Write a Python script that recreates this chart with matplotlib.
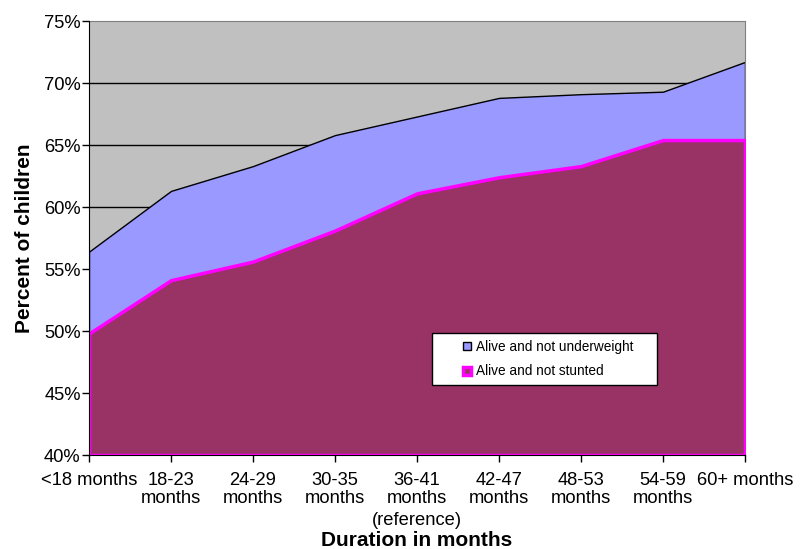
import numpy as np
import matplotlib

matplotlib.use("Agg")
import matplotlib.pyplot as plt
from matplotlib.patches import Patch, Rectangle
from matplotlib.legend_handler import HandlerPatch

plt.rcParams["font.family"] = ["Liberation Sans", "DejaVu Sans"]

# data (percent of children)
categories = [
    "<18 months",
    "18-23\nmonths",
    "24-29\nmonths",
    "30-35\nmonths",
    "36-41\nmonths",
    "42-47\nmonths",
    "48-53\nmonths",
    "54-59\nmonths",
    "60+ months",
]
not_underweight = [56.4, 61.3, 63.3, 65.8, 67.3, 68.8, 69.1, 69.3, 71.7]
not_stunted = [49.8, 54.1, 55.6, 58.1, 61.1, 62.4, 63.3, 65.4, 65.4]
yticks = [40, 45, 50, 55, 60, 65, 70, 75]
ref_idx = 4  # reference category


class SquareHandler(HandlerPatch):
    """small square drawn at the right end of the handle box"""

    def create_artists(self, legend, orig_handle, xdescent, ydescent,
                       width, height, fontsize, trans):
        s = height
        p = Rectangle((width - s - xdescent, -ydescent), s, s,
                      facecolor=orig_handle.get_facecolor(),
                      edgecolor=orig_handle.get_edgecolor(),
                      lw=orig_handle.get_linewidth(), transform=trans)
        return [p]


x = np.arange(len(categories))

fig = plt.figure(figsize=(8, 5.49), dpi=100)
ax = fig.add_axes([0.11125, 0.1712, 0.82, 0.7905])
ax.set_facecolor("#C0C0C0")

for yv in yticks[1:-1]:
    ax.axhline(yv, color="black", lw=1, zorder=1)

ax.fill_between(x, 40, not_underweight, facecolor="#9999FF",
                edgecolor="black", lw=1, zorder=2)
ax.fill_between(x, 40, not_stunted, facecolor="#993366",
                edgecolor="#FF00FF", lw=2.5, zorder=3)

ax.set_xlim(0, len(categories) - 1)
ax.set_ylim(40, 75)
ax.set_yticks(yticks)
ax.set_yticklabels(["%d%%" % v for v in yticks], fontsize=13.2)
ax.set_xticks(x)
ax.set_xticklabels(categories, fontsize=13.2, linespacing=1.05, va="top")
ax.tick_params(axis="both", direction="out", length=5, width=1, color="black")
ax.tick_params(axis="x", pad=7.2)
ax.tick_params(axis="y", pad=1)

ax.annotate("(reference)", xy=(ref_idx, 0), xycoords=("data", "axes fraction"),
            xytext=(0, -47), textcoords="offset points",
            ha="center", va="center", fontsize=13.2)

for s in ["left", "bottom"]:
    ax.spines[s].set_color("black")
    ax.spines[s].set_zorder(5)
for s in ["top", "right"]:
    ax.spines[s].set_color("#808080")

fig.text(417 / 800, 1 - 541 / 549, "Duration in months", fontsize=15,
         fontweight="bold", ha="center", va="center")
fig.text(25 / 800, 1 - 238 / 549, "Percent of children", fontsize=15,
         fontweight="bold", ha="center", va="center", rotation=90)

handles = [
    Patch(facecolor="#9999FF", edgecolor="black", lw=1, label="Alive and not underweight"),
    Patch(facecolor="#993366", edgecolor="#FF00FF", lw=2.5, label="Alive and not stunted"),
]
leg = ax.legend(handles=handles, loc="upper left",
                bbox_to_anchor=(0.523, 0.2, 0.343, 0.081), mode="expand",
                fontsize=9.8, frameon=True, fancybox=False, framealpha=1,
                edgecolor="black", handlelength=2.35, handleheight=0.55,
                borderpad=0.5, labelspacing=0.78, handletextpad=0.37,
                borderaxespad=0,
                handler_map={Patch: SquareHandler()})
leg.get_frame().set_linewidth(1)
leg.set_zorder(10)

plt.savefig("out.png", dpi=100)
